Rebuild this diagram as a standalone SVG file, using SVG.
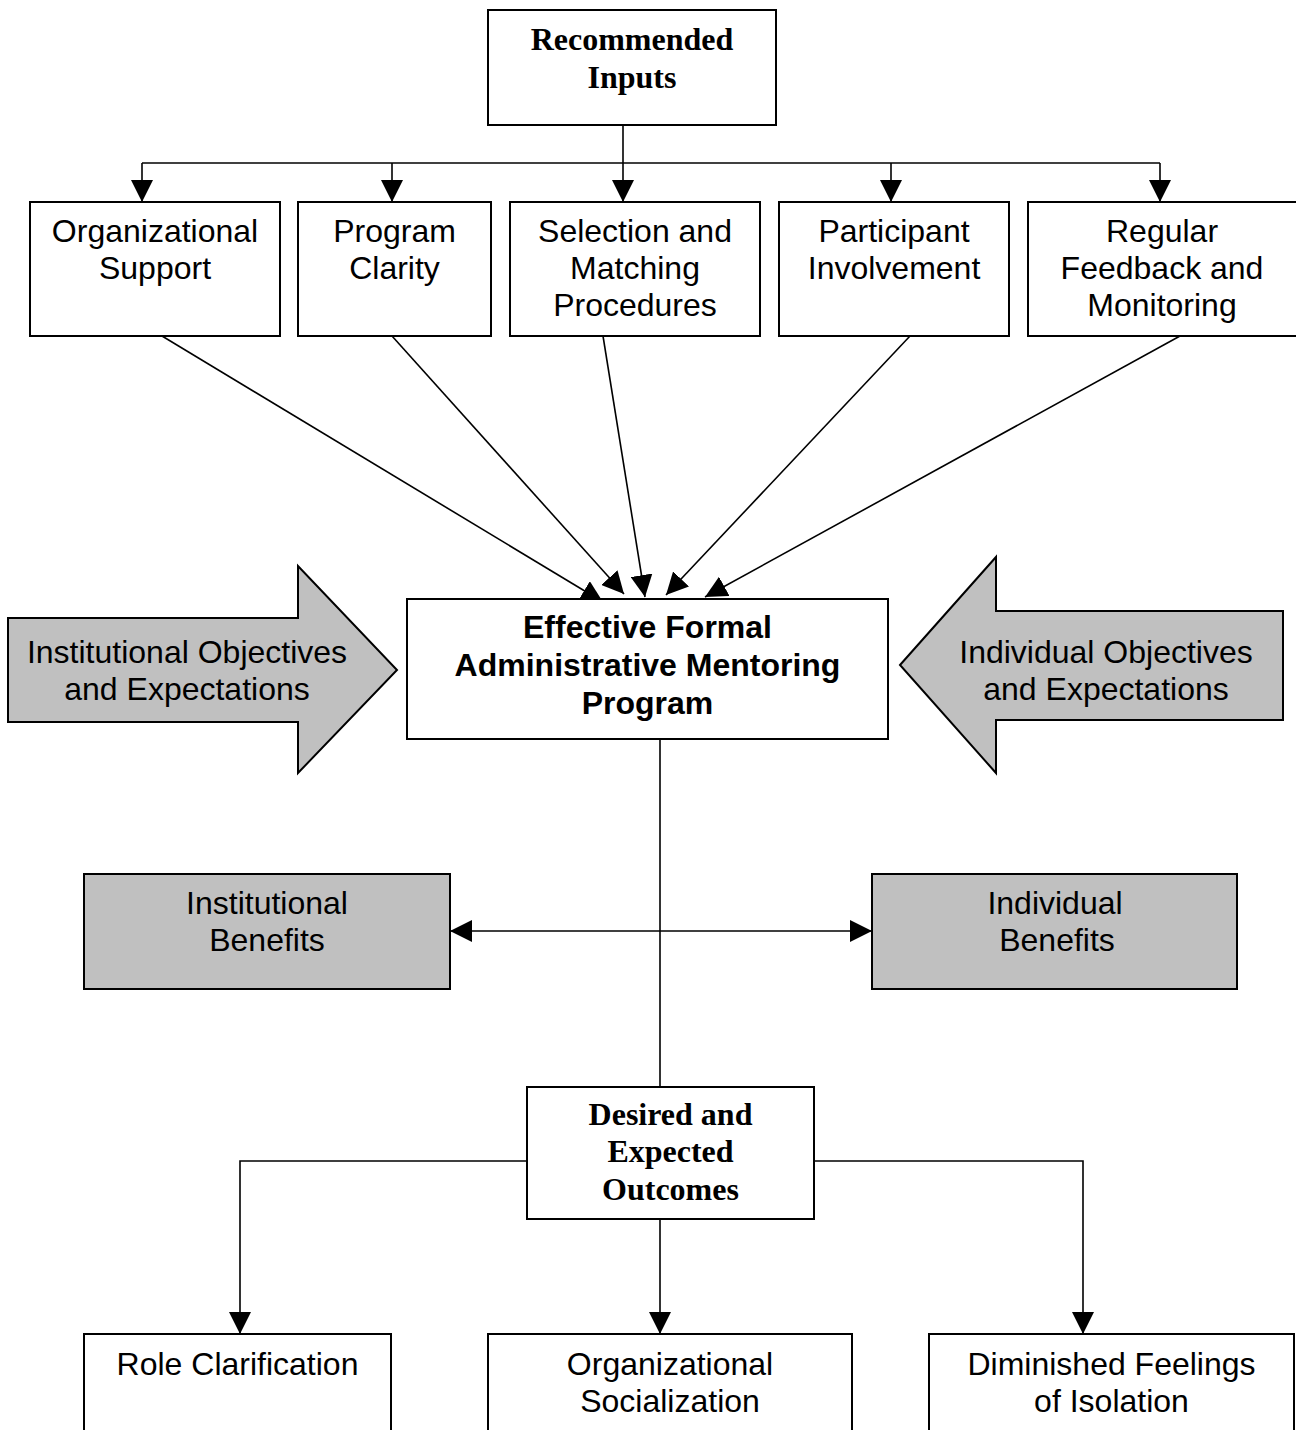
<svg xmlns="http://www.w3.org/2000/svg" width="1296" height="1430" viewBox="0 0 1296 1430">
<style>
.box{fill:#fff;stroke:#000;stroke-width:2}
.gray{fill:#c0c0c0;stroke:#000;stroke-width:2}
.t{font-family:"Liberation Sans",Arial,sans-serif;font-size:32px;text-anchor:middle;fill:#000}
.tb{font-family:"Liberation Sans",Arial,sans-serif;font-size:32px;font-weight:bold;text-anchor:middle;fill:#000}
.ts{font-family:"Liberation Serif","Times New Roman",serif;font-size:32px;font-weight:bold;text-anchor:middle;fill:#000}
.ln{fill:none;stroke:#000;stroke-width:1.6}
.arr{marker-end:url(#ah)}
</style>
<defs>
<marker id="ah" markerUnits="userSpaceOnUse" markerWidth="22" markerHeight="22" refX="20" refY="10" orient="auto-start-reverse" viewBox="0 0 20 20">
<path d="M0,0 L20,10 L0,20 z" fill="#000"/>
</marker>
</defs>
<rect width="1296" height="1430" fill="#fff"/>

<g id="connectors">
<line class="ln arr" x1="623" y1="125" x2="623" y2="202"/>
<line class="ln" x1="142" y1="163" x2="1160" y2="163"/>
<line class="ln arr" x1="142" y1="163" x2="142" y2="202"/>
<line class="ln arr" x1="392" y1="163" x2="392" y2="202"/>
<line class="ln arr" x1="891" y1="163" x2="891" y2="202"/>
<line class="ln arr" x1="1160" y1="163" x2="1160" y2="202"/>
<line class="ln arr" x1="162" y1="336" x2="603" y2="602"/>
<line class="ln arr" x1="392" y1="336" x2="624" y2="594"/>
<line class="ln arr" x1="603" y1="336" x2="645" y2="597"/>
<line class="ln arr" x1="910" y1="336" x2="666" y2="595"/>
<line class="ln arr" x1="1180" y1="336" x2="705" y2="597"/>
<line class="ln" x1="660" y1="739" x2="660" y2="1087"/>
<line class="ln" x1="450" y1="931" x2="872" y2="931" marker-start="url(#ah)" marker-end="url(#ah)"/>
<polyline class="ln arr" points="527,1161 240,1161 240,1334"/>
<polyline class="ln arr" points="814,1161 1083,1161 1083,1334"/>
<line class="ln arr" x1="660" y1="1219" x2="660" y2="1334"/>
</g>

<g id="recommended-inputs">
<rect class="box" x="488" y="10" width="288" height="115"/>
<text class="ts" x="632" y="50">Recommended</text>
<text class="ts" x="632" y="88">Inputs</text>
</g>

<g id="organizational-support">
<rect class="box" x="30" y="202" width="250" height="134"/>
<text class="t" x="155" y="242">Organizational</text>
<text class="t" x="155" y="279">Support</text>
</g>

<g id="program-clarity">
<rect class="box" x="298" y="202" width="193" height="134"/>
<text class="t" x="394.5" y="242">Program</text>
<text class="t" x="394.5" y="279">Clarity</text>
</g>

<g id="selection-matching">
<rect class="box" x="510" y="202" width="250" height="134"/>
<text class="t" x="635" y="242">Selection and</text>
<text class="t" x="635" y="279">Matching</text>
<text class="t" x="635" y="316">Procedures</text>
</g>

<g id="participant-involvement">
<rect class="box" x="779" y="202" width="230" height="134"/>
<text class="t" x="894" y="242">Participant</text>
<text class="t" x="894" y="279">Involvement</text>
</g>

<g id="regular-feedback">
<rect class="box" x="1028" y="202" width="270" height="134"/>
<text class="t" x="1162" y="242">Regular</text>
<text class="t" x="1162" y="279">Feedback and</text>
<text class="t" x="1162" y="316">Monitoring</text>
</g>

<g id="institutional-objectives">
<polygon class="gray" points="8,618 298,618 298,566 397,670 298,773 298,722 8,722"/>
<text class="t" x="187" y="663">Institutional Objectives</text>
<text class="t" x="187" y="700">and Expectations</text>
</g>

<g id="individual-objectives">
<polygon class="gray" points="900,665 996,557 996,611 1283,611 1283,720 996,720 996,773"/>
<text class="t" x="1106" y="663">Individual Objectives</text>
<text class="t" x="1106" y="700">and Expectations</text>
</g>

<g id="effective-program">
<rect class="box" x="407" y="599" width="481" height="140"/>
<text class="tb" x="647.5" y="638">Effective Formal</text>
<text class="tb" x="647.5" y="676">Administrative Mentoring</text>
<text class="tb" x="647.5" y="714">Program</text>
</g>

<g id="institutional-benefits">
<rect class="gray" x="84" y="874" width="366" height="115"/>
<text class="t" x="267" y="914">Institutional</text>
<text class="t" x="267" y="951">Benefits</text>
</g>

<g id="individual-benefits">
<rect class="gray" x="872" y="874" width="365" height="115"/>
<text class="t" x="1055" y="914">Individual</text>
<text class="t" x="1057" y="951">Benefits</text>
</g>

<g id="desired-outcomes">
<rect class="box" x="527" y="1087" width="287" height="132"/>
<text class="ts" x="670.5" y="1125">Desired and</text>
<text class="ts" x="670.5" y="1162">Expected</text>
<text class="ts" x="670.5" y="1200">Outcomes</text>
</g>

<g id="role-clarification">
<rect class="box" x="84" y="1334" width="307" height="110"/>
<text class="t" x="237.5" y="1375">Role Clarification</text>
</g>

<g id="organizational-socialization">
<rect class="box" x="488" y="1334" width="364" height="110"/>
<text class="t" x="670" y="1375">Organizational</text>
<text class="t" x="670" y="1412">Socialization</text>
</g>

<g id="diminished-isolation">
<rect class="box" x="929" y="1334" width="365" height="110"/>
<text class="t" x="1111.5" y="1375">Diminished Feelings</text>
<text class="t" x="1111.5" y="1412">of Isolation</text>
</g>
</svg>
